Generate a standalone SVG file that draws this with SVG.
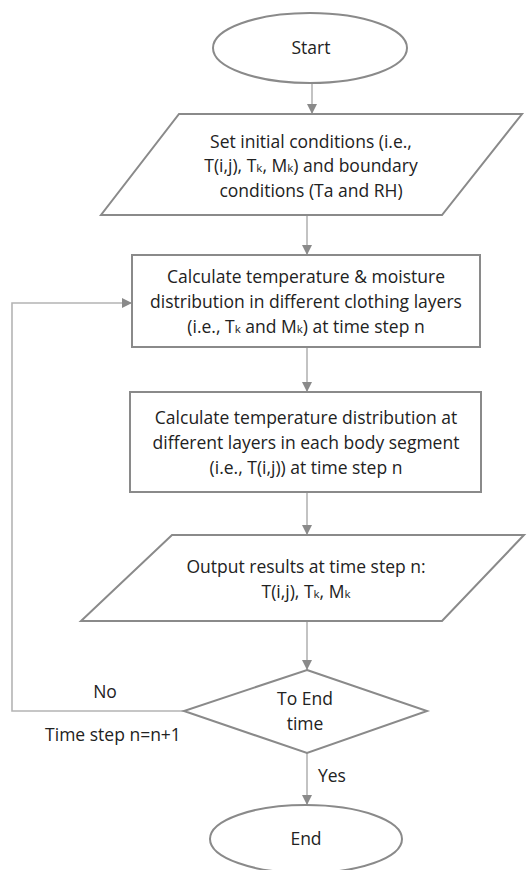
<svg xmlns="http://www.w3.org/2000/svg" width="532" height="870" viewBox="0 0 532 870">
<defs>
<marker id="ah" viewBox="0 0 10 10" refX="10" refY="5" markerWidth="10" markerHeight="10" markerUnits="userSpaceOnUse" orient="auto">
<path d="M0,0 L10,5 L0,10 z" fill="#8a8a8a"/>
</marker>
<style>
.s{fill:#fff;stroke:#8a8a8a;stroke-width:2}
.c{fill:none;stroke:#b4b4b4;stroke-width:1.6;marker-end:url(#ah)}
text{font-family:"Open Sans","Liberation Sans",Arial,sans-serif;font-size:17.5px;fill:#222;text-anchor:middle}
.sub{font-size:11.5px}
.l{text-anchor:start}
</style>
</defs>
<rect width="532" height="870" fill="#fff"/>
<g id="connectors">
<path class="c" d="M312,83 V114"/>
<path class="c" d="M307,215 V255"/>
<path class="c" d="M307,347 V392"/>
<path class="c" d="M307,492 V535"/>
<path class="c" d="M307,621 V670"/>
<path class="c" d="M307,753 V805"/>
<path class="c" d="M184,711 H12 V303 H132"/>
</g>
<g id="start">
<ellipse class="s" cx="310" cy="48" rx="97" ry="35"/>
<text x="311" y="54">Start</text>
</g>
<g id="init">
<polygon class="s" points="179,114 522,114 442,215 101,215"/>
<text x="311" y="148">Set initial conditions (i.e.,</text>
<text x="311" y="172">T(i,j), T<tspan class="sub">k</tspan>, M<tspan class="sub">k</tspan>) and boundary</text>
<text x="311" y="197">conditions (Ta and RH)</text>
</g>
<g id="calc1">
<rect class="s" x="132" y="255" width="348" height="92"/>
<text x="306" y="283">Calculate temperature &amp; moisture</text>
<text x="306" y="308">distribution in different clothing layers</text>
<text x="306" y="333">(i.e., T<tspan class="sub">k</tspan> and M<tspan class="sub">k</tspan>) at time step n</text>
</g>
<g id="calc2">
<rect class="s" x="130" y="392" width="351" height="100"/>
<text x="306" y="424">Calculate temperature distribution at</text>
<text x="306" y="449">different layers in each body segment</text>
<text x="306" y="474">(i.e., T(i,j)) at time step n</text>
</g>
<g id="output">
<polygon class="s" points="172,535 524,535 442,621 81,621"/>
<text x="306" y="573">Output results at time step n:</text>
<text x="306" y="598">T(i,j), T<tspan class="sub">k</tspan>, M<tspan class="sub">k</tspan></text>
</g>
<g id="decision">
<polygon class="s" points="307,670 427,711 307,753 184,711"/>
<text x="305" y="705">To End</text>
<text x="305" y="730">time</text>
</g>
<g id="end">
<ellipse class="s" cx="306" cy="839" rx="96" ry="34"/>
<text x="306" y="845">End</text>
</g>
<g id="labels">
<text x="105" y="698">No</text>
<text x="113" y="741">Time step n=n+1</text>
<text class="l" x="318" y="782">Yes</text>
</g>
</svg>
